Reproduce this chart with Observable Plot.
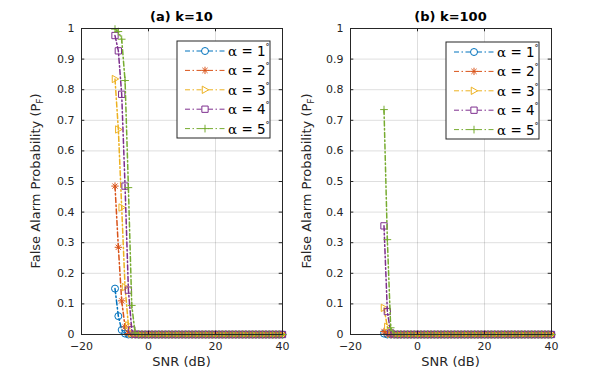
<!DOCTYPE html>
<html><head><meta charset="utf-8">
<script src="https://cdn.jsdelivr.net/npm/d3@7"></script>
<script src="https://cdn.jsdelivr.net/npm/@observablehq/plot@0.6"></script>
<style>
body{margin:0;background:#fff;}
#fig{position:relative;width:609px;height:376px;background:#fff;overflow:hidden;}
#fig svg{position:absolute;top:0;overflow:visible;}
</style></head><body><div id="fig"></div>
<script>
// ---- data ----
const snr = [-10,-9,-8,-7,-6,-5,-4,-3,-2,-1,0,1,2,3,4,5,6,7,8,9,10,11,12,13,14,15,16,17,18,19,20,21,22,23,24,25,26,27,28,29,30,31,32,33,34,35,36,37,38,39,40];
const seriesNames = ["1","2","3","4","5"];
const xTicks = [-20, 0, 20, 40];
const yTicks = [0, 0.1, 0.2, 0.3, 0.4, 0.5, 0.6, 0.7, 0.8, 0.9, 1];
const titles = ["(a) k=10", "(b) k=100"];

// (a) k = 10
const k10_a1 = [0.15,0.06,0.015,0.003,0,0,0,0,0,0,0,0,0,0,0,0,0,0,0,0,0,0,0,0,0,0,0,0,0,0,0,0,0,0,0,0,0,0,0,0,0,0,0,0,0,0,0,0,0,0,0];
const k10_a2 = [0.485,0.285,0.11,0.025,0.003,0,0,0,0,0,0,0,0,0,0,0,0,0,0,0,0,0,0,0,0,0,0,0,0,0,0,0,0,0,0,0,0,0,0,0,0,0,0,0,0,0,0,0,0,0,0];
const k10_a3 = [0.835,0.67,0.415,0.155,0.03,0.003,0,0,0,0,0,0,0,0,0,0,0,0,0,0,0,0,0,0,0,0,0,0,0,0,0,0,0,0,0,0,0,0,0,0,0,0,0,0,0,0,0,0,0,0,0];
const k10_a4 = [0.977,0.927,0.785,0.485,0.145,0.015,0.001,0,0,0,0,0,0,0,0,0,0,0,0,0,0,0,0,0,0,0,0,0,0,0,0,0,0,0,0,0,0,0,0,0,0,0,0,0,0,0,0,0,0,0,0];
const k10_a5 = [0.998,0.99,0.965,0.83,0.48,0.095,0.005,0,0,0,0,0,0,0,0,0,0,0,0,0,0,0,0,0,0,0,0,0,0,0,0,0,0,0,0,0,0,0,0,0,0,0,0,0,0,0,0,0,0,0,0];
// (b) k = 100
const k100_a1 = [0.003,0,0,0,0,0,0,0,0,0,0,0,0,0,0,0,0,0,0,0,0,0,0,0,0,0,0,0,0,0,0,0,0,0,0,0,0,0,0,0,0,0,0,0,0,0,0,0,0,0,0];
const k100_a2 = [0.01,0.001,0,0,0,0,0,0,0,0,0,0,0,0,0,0,0,0,0,0,0,0,0,0,0,0,0,0,0,0,0,0,0,0,0,0,0,0,0,0,0,0,0,0,0,0,0,0,0,0,0];
const k100_a3 = [0.087,0.025,0.002,0,0,0,0,0,0,0,0,0,0,0,0,0,0,0,0,0,0,0,0,0,0,0,0,0,0,0,0,0,0,0,0,0,0,0,0,0,0,0,0,0,0,0,0,0,0,0,0];
const k100_a4 = [0.355,0.075,0.005,0,0,0,0,0,0,0,0,0,0,0,0,0,0,0,0,0,0,0,0,0,0,0,0,0,0,0,0,0,0,0,0,0,0,0,0,0,0,0,0,0,0,0,0,0,0,0,0];
const k100_a5 = [0.735,0.31,0.022,0.001,0,0,0,0,0,0,0,0,0,0,0,0,0,0,0,0,0,0,0,0,0,0,0,0,0,0,0,0,0,0,0,0,0,0,0,0,0,0,0,0,0,0,0,0,0,0,0];

// ---- styles ----
const colors = ["#0072BD","#D95319","#EDB120","#7E2F8E","#77AC30"];
const FONT = "'DejaVu Sans', sans-serif";
const INK = "#262626";
const DASH = "5,2.5,1.5,2.5";

// custom MATLAB-like markers
const mk = {
  circle: {draw(c, s){const r=Math.sqrt(s/Math.PI); c.moveTo(r,0); c.arc(0,0,r,0,2*Math.PI);}},
  asterisk: {draw(c, s){const r=Math.sqrt(s/Math.PI)*1.05, d=r*0.7071;
    c.moveTo(-r,0);c.lineTo(r,0);c.moveTo(0,-r);c.lineTo(0,r);
    c.moveTo(-d,-d);c.lineTo(d,d);c.moveTo(-d,d);c.lineTo(d,-d);}},
  triRight: {draw(c, s){const r=Math.sqrt(s/Math.PI)*1.05;
    c.moveTo(r,0);c.lineTo(-r*0.75,-r);c.lineTo(-r*0.75,r);c.closePath();}},
  square: {draw(c, s){const h=Math.sqrt(s/Math.PI)*0.9; c.rect(-h,-h,2*h,2*h);}},
  plus: {draw(c, s){const r=Math.sqrt(s/Math.PI)*1.1;
    c.moveTo(-r,0);c.lineTo(r,0);c.moveTo(0,-r);c.lineTo(0,r);}}
};
const symbolList = [mk.circle, mk.asterisk, mk.triRight, mk.square, mk.plus];
const R = 3.5;

function makeRows(arrays){
  return arrays.map(vals => snr.map((x, i) => ({x, y: vals[i]})));
}

const fig = document.getElementById("fig");

function panel(arrays, title, cfg){
  const rows = makeRows(arrays);
  const tickLenY = 3.3 / 305.7;          // in y units
  const tickLenX = 3.3 * 60 / 201;       // in x units
  const marks = [
    Plot.gridX(xTicks, {stroke: "#000", strokeOpacity: 0.13}),
    Plot.gridY(yTicks, {stroke: "#000", strokeOpacity: 0.13}),
  ];
  rows.forEach((d, i) => {
    marks.push(Plot.line(d, {x: "x", y: "y", stroke: colors[i], strokeWidth: 1.5, strokeDasharray: DASH}));
    marks.push(Plot.dot(d, {x: "x", y: "y", r: R, symbol: symbolList[i], stroke: colors[i], fill: "none", strokeWidth: 1}));
  });
  marks.push(
    Plot.ruleX(xTicks, {y1: 0, y2: tickLenY, stroke: INK}),
    Plot.ruleX(xTicks, {y1: 1, y2: 1 - tickLenY, stroke: INK}),
    Plot.ruleY(yTicks, {x1: -20, x2: -20 + tickLenX, stroke: INK}),
    Plot.ruleY(yTicks, {x1: 40, x2: 40 - tickLenX, stroke: INK}),
    Plot.frame({stroke: INK}),
    Plot.axisX(xTicks, {tickSize: 0, tickPadding: 8, fontSize: 11, fill: INK, label: null}),
    Plot.axisY(yTicks, {tickSize: 0, tickPadding: 7, fontSize: 11, fill: INK, label: null,
      tickFormat: d => (d === 0 || d === 1) ? String(d) : d3.format(".1f")(d)})
  );
  const svg = Plot.plot({
    width: cfg.width, height: 376,
    marginLeft: cfg.ml, marginRight: cfg.mr, marginTop: 28, marginBottom: 42,
    style: {fontFamily: FONT, color: INK, background: "transparent", overflow: "visible"},
    x: {domain: [-20, 40]},
    y: {domain: [0, 1]},
    marks
  });
  svg.style.left = cfg.left + "px";
  fig.appendChild(svg);

  const s = d3.select(svg);
  const cx = cfg.ml + (cfg.width - cfg.ml - cfg.mr) / 2;
  // title
  s.append("text").attr("x", cx).attr("y", 21).attr("text-anchor", "middle")
    .attr("font-family", FONT).attr("font-size", 13).attr("font-weight", "bold").attr("fill", "#000")
    .text(title);
  // x label
  s.append("text").attr("x", cx).attr("y", 366).attr("text-anchor", "middle")
    .attr("font-family", FONT).attr("font-size", 13).attr("fill", INK).text("SNR (dB)");
  // y label
  const yl = s.append("text").attr("transform", `translate(${cfg.ylx},181) rotate(-90)`)
    .attr("text-anchor", "middle").attr("font-family", FONT).attr("font-size", 13).attr("fill", INK);
  yl.append("tspan").text("False Alarm Probability (P");
  yl.append("tspan").attr("font-size", 9).attr("dy", 3).text("F");
  yl.append("tspan").attr("dy", -3).text(")");

  // legend
  const L = s.append("g").attr("transform", `translate(${cfg.lgx},${cfg.lgy})`);
  L.append("rect").attr("x", 0).attr("y", 0).attr("width", 93).attr("height", 97)
    .attr("fill", "#fff").attr("stroke", INK).attr("stroke-width", 1);
  seriesNames.forEach((n, i) => {
    const yy = 10 + i * 19.4;
    const g = L.append("g").attr("transform", `translate(0,${yy})`);
    g.append("line").attr("x1", 8).attr("x2", 48).attr("y1", 0).attr("y2", 0)
      .attr("stroke", colors[i]).attr("stroke-width", 1).attr("stroke-dasharray", DASH);
    const p = d3.path(); symbolList[i].draw(p, Math.PI * R * R);
    g.append("path").attr("d", p.toString()).attr("transform", "translate(28,0)")
      .attr("fill", "#fff").attr("stroke", colors[i]);
    const t = g.append("text").attr("x", 51).attr("y", 5).attr("font-size", 13.5)
      .attr("text-anchor", "start")
      .attr("font-family", FONT).attr("fill", "#000");
    t.append("tspan").attr("font-family", "'DejaVu Serif', serif").text("α");
    t.append("tspan").text(" = " + n + "\u00B0")
      .attr("font-size", 13.5);
    // superscript styling of the degree sign via a separate tspan
  });
  // restyle degree sign as small superscript
  L.selectAll("text").each(function(){
    const tsp = d3.select(this).select("tspan:nth-child(2)");
    const txt = tsp.text();
    tsp.text(txt.slice(0, -1));
    d3.select(this).append("tspan").attr("font-size", 8).attr("dy", -6).text("\u00B0");
  });
}

panel([k10_a1,k10_a2,k10_a3,k10_a4,k10_a5], titles[0],
  {left: 0, width: 296, ml: 81, mr: 14, ylx: 40, lgx: 177, lgy: 41});
panel([k100_a1,k100_a2,k100_a3,k100_a4,k100_a5], titles[1],
  {left: 296, width: 313, ml: 54, mr: 58, ylx: 15, lgx: 150, lgy: 42});
</script></body></html>
